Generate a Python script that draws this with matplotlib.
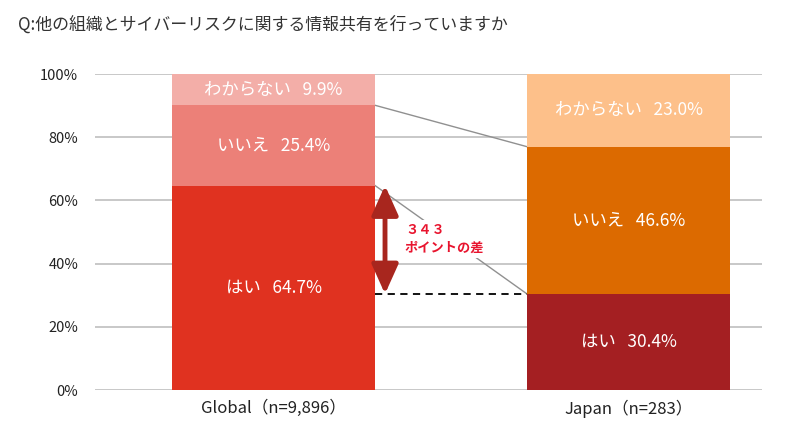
import matplotlib
matplotlib.use("Agg")
import matplotlib.pyplot as plt
import numpy as np

plt.rcParams['font.family'] = ['Noto Sans CJK JP', 'DejaVu Sans']

categories = ["Global（n=9,896）", "Japan（n=283）"]
answers = ["はい", "いいえ", "わからない"]
yes_vals = [64.7, 30.4]
no_vals = [25.4, 46.6]
dk_vals = [9.9, 23.0]
colors_global = ["#E03220", "#EC8078", "#F3AEA8"]
colors_japan = ["#A41F22", "#DC6A00", "#FDC08A"]
yticks = [0, 20, 40, 60, 80, 100]
title = "Q:他の組織とサイバーリスクに関する情報共有を行っていますか"
diff_label = "３４３\nポイントの差"

fig = plt.figure(figsize=(8, 4.44), dpi=100)
ax = fig.add_axes([0.11875, 0.1216, 0.83375, 0.7117])

x = np.arange(len(categories))
width = 0.572
series = [yes_vals, no_vals, dk_vals]
bottoms = np.zeros(len(categories))
for si, vals in enumerate(series):
    cols = [colors_global[si], colors_japan[si]]
    ax.bar(x, vals, width=width, bottom=bottoms, color=cols, zorder=3)
    for xi, (v, b) in enumerate(zip(vals, bottoms)):
        ax.text(x[xi], b + v / 2, f"{answers[si]}   {v:.1f}%", ha='center', va='center',
                color='white', fontsize=12.5, zorder=5)
    bottoms = bottoms + np.array(vals)

ax.set_ylim(0, 100)
ax.set_xlim(-0.503, 1.376)
ax.set_yticks(yticks)
ax.set_yticklabels([f"{t}%" for t in yticks], fontsize=10.5, color='#222222')
ax.set_xticks(x)
ax.set_xticklabels(categories, fontsize=12, color='#222222')
ax.tick_params(axis='x', length=0, pad=7)
ax.tick_params(axis='y', length=0, pad=12)
for s in ax.spines.values():
    s.set_visible(False)
ax.yaxis.grid(True, color='#C4C4C4', lw=1.3, zorder=0)
ax.set_axisbelow(True)

# connector lines
gx = x[0] + width / 2
jx = x[1] - width / 2
ax.plot([gx, jx], [yes_vals[0] + no_vals[0], yes_vals[1] + no_vals[1]], color='#909090', lw=1, zorder=2)
ax.plot([gx, jx], [yes_vals[0], yes_vals[1]], color='#909090', lw=1, zorder=2)
ax.plot([gx, jx], [yes_vals[1], yes_vals[1]], color='black', lw=1.3, ls=(0, (4, 3)), zorder=2)

# difference arrow
ax_x = x[0] + 0.314
ax.annotate('', xy=(ax_x, yes_vals[1]), xytext=(ax_x, yes_vals[0]),
            arrowprops=dict(arrowstyle='<|-|>,head_length=1.0,head_width=0.45', lw=3.5,
                            color='#A8261E', mutation_scale=18, shrinkA=0, shrinkB=0),
            zorder=6)
ax.text(x[0] + 0.37, 47.8, diff_label, ha='left', va='center', color='#E8142E',
        fontsize=9.5, fontweight='bold', linespacing=1.4, zorder=4,
        bbox=dict(facecolor='white', edgecolor='none', pad=2))

fig.text(0.0225, 0.944, title, ha='left', va='center', fontsize=12.2, color='#333333')

fig.savefig("out.png", dpi=100, facecolor='white')
